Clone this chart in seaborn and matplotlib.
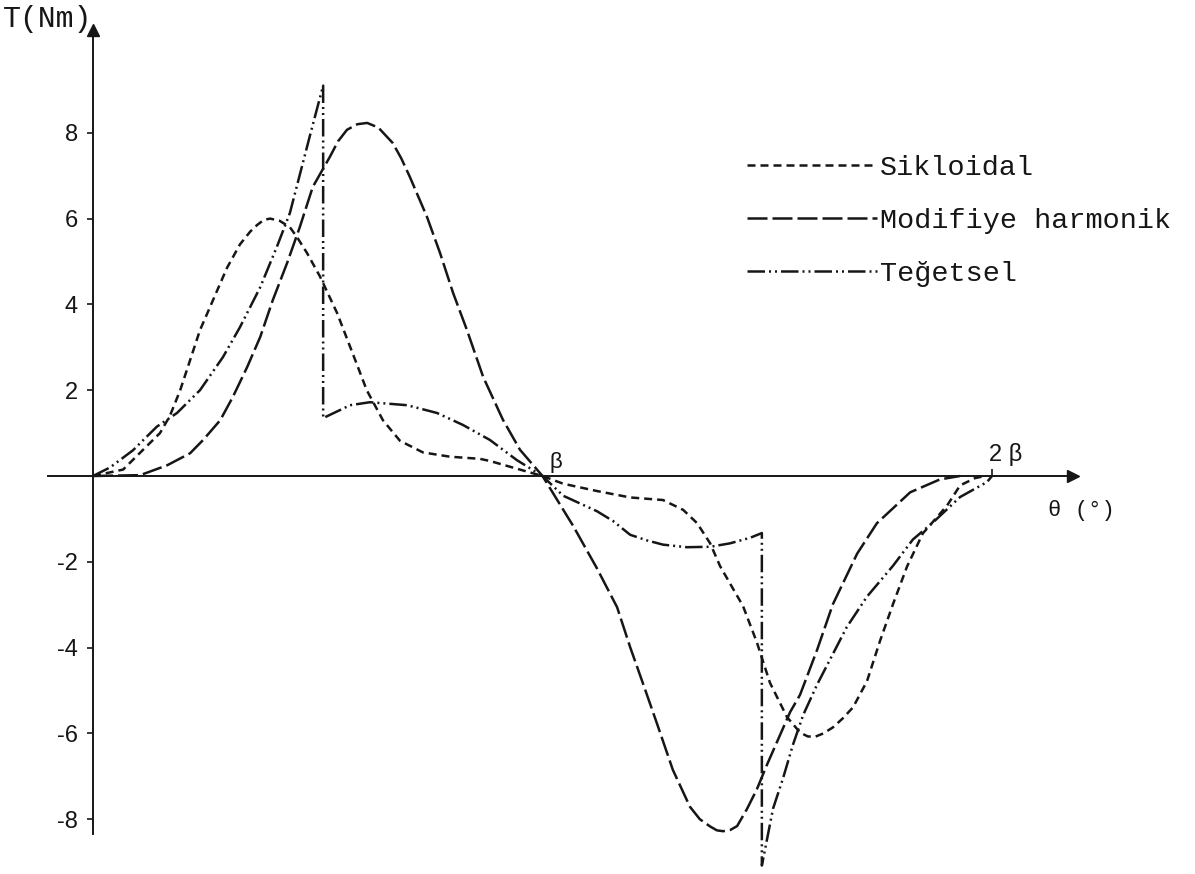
import matplotlib
matplotlib.use("Agg")
import matplotlib.pyplot as plt
import numpy as np
import pandas as pd
import seaborn as sns

# ---------------- data (theta in units of beta, torque in Nm) ----------------
curve_names = ["Sikloidal", "Modifiye harmonik", "Teğetsel"]

siklo_theta = [0, 0.067, 0.12, 0.149, 0.171, 0.194, 0.216, 0.238, 0.267, 0.298, 0.327,
               0.35, 0.365, 0.38, 0.394, 0.415, 0.438, 0.455, 0.476, 0.505, 0.543,
               0.578, 0.609, 0.645, 0.683, 0.734, 0.794, 0.861, 0.883, 0.943, 1.0,
               1.046, 1.121, 1.195, 1.268, 1.313, 1.344, 1.373, 1.395, 1.424, 1.446,
               1.477, 1.506, 1.544, 1.573, 1.59, 1.606, 1.625, 1.646, 1.668, 1.691,
               1.722, 1.751, 1.780, 1.811, 1.846, 1.900, 1.929, 1.962, 1.984]
siklo_T = [0, 0.15, 0.7, 1.0, 1.4, 2.0, 2.7, 3.4, 4.1, 4.85, 5.4,
           5.7, 5.85, 5.97, 6.0, 5.95, 5.8, 5.55, 5.2, 4.65, 3.8,
           2.85, 2.0, 1.3, 0.82, 0.55, 0.45, 0.4, 0.35, 0.17, 0,
           -0.18, -0.35, -0.5, -0.56, -0.79, -1.1, -1.57, -2.1, -2.63, -3.03,
           -3.88, -4.82, -5.62, -5.98, -6.07, -6.08, -6.0, -5.86, -5.65, -5.39,
           -4.78, -3.84, -2.98, -2.11, -1.34, -0.69, -0.22, -0.05, 0]

modif_theta = [0, 0.105, 0.165, 0.216, 0.245, 0.283, 0.311, 0.343, 0.372, 0.400,
               0.432, 0.460, 0.489, 0.527, 0.545, 0.565, 0.588, 0.610, 0.635, 0.667,
               0.686, 0.705, 0.743, 0.772, 0.801, 0.832, 0.868, 0.912, 0.950, 1.0,
               1.068, 1.121, 1.166, 1.195, 1.224, 1.255, 1.290, 1.328, 1.35, 1.373,
               1.388, 1.402, 1.418, 1.433, 1.455, 1.477, 1.499, 1.551, 1.573, 1.611,
               1.646, 1.700, 1.744, 1.818, 1.884, 1.929]
modif_T = [0, 0.02, 0.25, 0.53, 0.84, 1.3, 1.84, 2.54, 3.24, 4.1,
           4.97, 5.8, 6.74, 7.44, 7.8, 8.07, 8.2, 8.23, 8.12, 7.76,
           7.4, 6.97, 6.04, 5.2, 4.27, 3.4, 2.31, 1.31, 0.61, 0,
           -1.16, -2.15, -3.06, -3.99, -4.85, -5.78, -6.85, -7.71, -8.0, -8.17,
           -8.26, -8.28, -8.25, -8.16, -7.76, -7.3, -6.74, -5.5, -5.1, -4.05,
           -2.99, -1.81, -1.1, -0.38, -0.08, 0]

teget_theta = [0, 0.038, 0.089, 0.142, 0.187, 0.238, 0.289, 0.327, 0.372, 0.409,
               0.438, 0.483, 0.512, 0.512, 0.572, 0.616, 0.699, 0.765, 0.823, 0.883,
               0.943, 1.0, 1.046, 1.121, 1.157, 1.195, 1.232, 1.268, 1.321, 1.373,
               1.417, 1.462, 1.488, 1.488, 1.513, 1.535, 1.557, 1.580, 1.611, 1.677,
               1.722, 1.780, 1.824, 1.869, 1.929, 1.989, 2.0]
teget_T = [0, 0.2, 0.6, 1.15, 1.47, 2.0, 2.77, 3.47, 4.4, 5.34,
           6.13, 7.95, 9.1, 1.35, 1.65, 1.72, 1.65, 1.47, 1.19, 0.84,
           0.37, 0, -0.46, -0.82, -1.05, -1.37, -1.5, -1.6, -1.66, -1.65,
           -1.57, -1.44, -1.33, -9.08, -7.75, -7.05, -6.27, -5.57, -4.86, -3.52,
           -2.81, -2.09, -1.48, -1.08, -0.49, -0.14, 0]

y_ticks = [-8, -6, -4, -2, 2, 4, 6, 8]
x_tick_labels = ["β", "2 β"]
y_label = "T(Nm)"
x_label = "θ (°)"

# ---------------- style ----------------
sns.set_theme(style="white")
plt.rcParams["font.family"] = ["Liberation Mono", "DejaVu Sans"]
plt.rcParams["axes.unicode_minus"] = False
INK = "#161616"

W, H = 1195, 874
fig = plt.figure(figsize=(W / 100, H / 100), dpi=100)
fig.patch.set_facecolor("white")

x0px, xs = 93.0, 449.5
y0px, ys = 476.0, 42.9
xlim = (-0.1, 2.18)
ylim = (-8.35, 10.4)
left = (x0px + xs * xlim[0]) / W
right = (x0px + xs * xlim[1]) / W
top = (y0px - ys * ylim[1]) / H
bottom = (y0px - ys * ylim[0]) / H
ax = fig.add_axes([left, 1 - bottom, right - left, bottom - top])
ax.set_facecolor("none")

df = pd.concat([
    pd.DataFrame({"theta": siklo_theta, "T": siklo_T, "curve": curve_names[0]}),
    pd.DataFrame({"theta": modif_theta, "T": modif_T, "curve": curve_names[1]}),
    pd.DataFrame({"theta": teget_theta, "T": teget_T, "curve": curve_names[2]}),
], ignore_index=True)

dash_map = {
    curve_names[0]: (3.2, 2.0),
    curve_names[1]: (8.0, 2.0),
    curve_names[2]: (7.0, 1.6, 0.8, 1.6, 0.8, 1.6),
}
sns.lineplot(data=df, x="theta", y="T", hue="curve", style="curve",
             palette={n: INK for n in curve_names}, dashes=dash_map,
             sort=False, estimator=None, linewidth=1.8, ax=ax, clip_on=False)
for ln in ax.get_lines():
    ln.set_clip_on(False)
    ln.set_solid_joinstyle("round")
    ln.set_dash_joinstyle("round")

ax.set_xlim(*xlim)
ax.set_ylim(*ylim)
ax.set_xlabel("")
ax.set_ylabel("")

for s in ["top", "right"]:
    ax.spines[s].set_visible(False)
for s in ["left", "bottom"]:
    ax.spines[s].set_position(("data", 0))
    ax.spines[s].set_color(INK)
    ax.spines[s].set_linewidth(1.4)

ax.set_yticks(y_ticks)
ax.set_yticklabels([str(v) for v in y_ticks], fontfamily="Liberation Sans",
                   fontsize=17, color=INK)
ax.tick_params(axis="y", left=True, direction="out", length=4, width=1.2,
               pad=7, colors=INK)
ax.set_xticks([2])
ax.set_xticklabels([""])
ax.tick_params(axis="x", bottom=True, direction="in", length=5, width=1.2, colors=INK)

# axis arrows
ax.plot(1, 0, marker=">", color=INK, ms=8, transform=ax.get_yaxis_transform(), clip_on=False)
ax.plot(0, 1, marker="^", color=INK, ms=8, transform=ax.get_xaxis_transform(), clip_on=False)

# labels
ax.text(1.015, 0.32, x_tick_labels[0], ha="left", va="center", fontsize=16,
        fontfamily="Liberation Sans", color=INK)
ax.text(2.03, 0.5, x_tick_labels[1], ha="center", va="center", fontsize=17,
        fontfamily="Liberation Sans", color=INK)
ax.text(2.2, -0.8, x_label, ha="center", va="center", fontsize=16,
        fontfamily=["Liberation Mono", "DejaVu Sans"], color=INK, clip_on=False)
fig.text(3 / W, 1 - 19 / H, y_label, ha="left", va="center", fontsize=21.5,
         fontfamily="Liberation Mono", color=INK)

# legend
old = ax.get_legend()
handles = list(old.legend_handles)
labels = [t.get_text() for t in old.get_texts()]
old.remove()
leg = ax.legend(handles, labels, loc="upper left",
                bbox_to_anchor=(747 / W, 1 - 155 / H), bbox_transform=fig.transFigure,
                frameon=False, prop={"family": "Liberation Mono", "size": 20.5},
                handlelength=4.55, handletextpad=0.12, labelspacing=0.95,
                borderpad=0, borderaxespad=0)
for h in leg.get_lines():
    h.set_linewidth(1.8)
    h.set_color(INK)
for t in leg.get_texts():
    t.set_color(INK)

fig.savefig("out.png", dpi=100, facecolor="white")
